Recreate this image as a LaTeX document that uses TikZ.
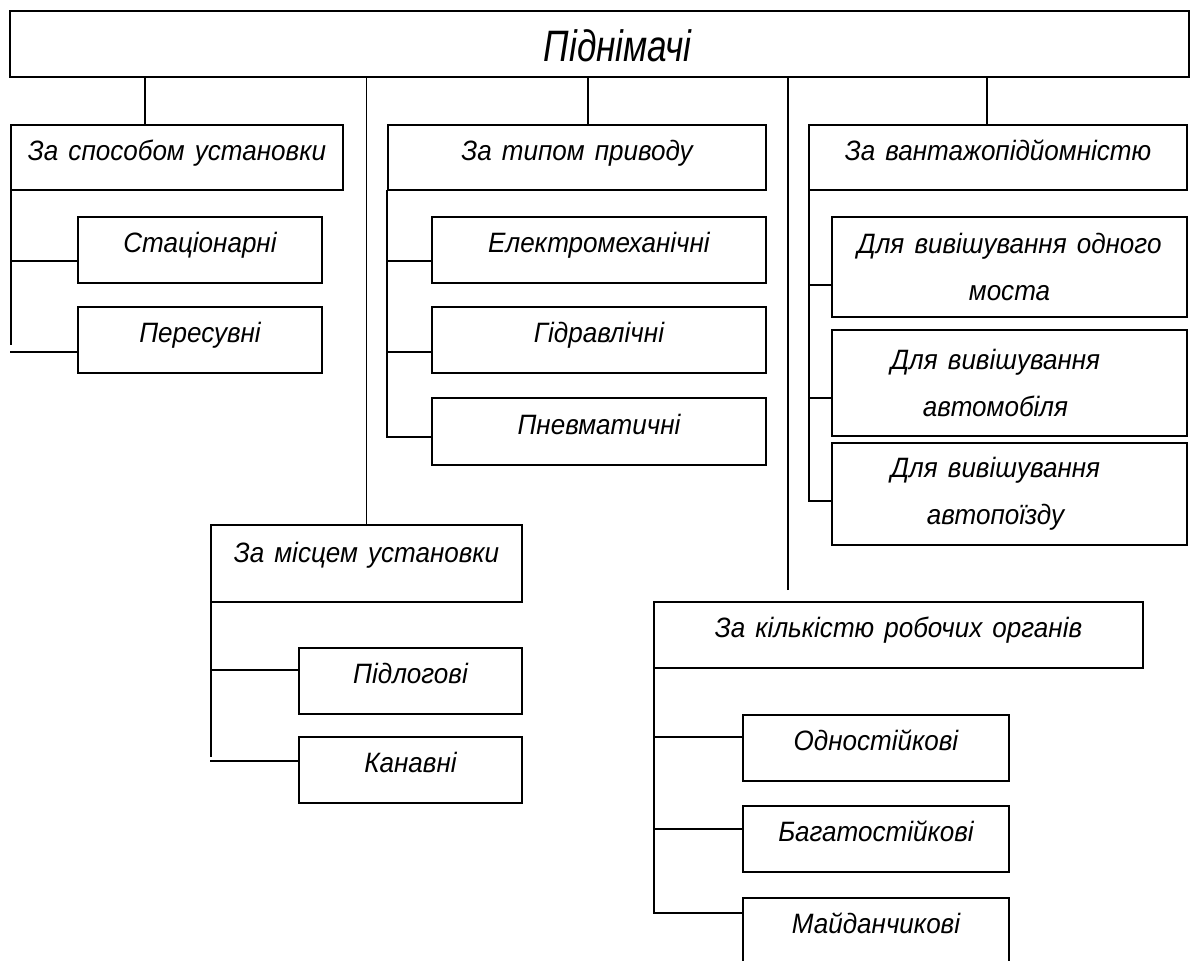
\documentclass[tikz,border=0pt]{standalone}
\usepackage{fontspec}
\setmainfont{Liberation Sans}[FakeStretch=0.93,WordSpace=1.4]
\newfontfamily\titlefont{Liberation Sans}[FakeStretch=0.8]
\usetikzlibrary{calc}
\begin{document}
\begin{tikzpicture}[x=1pt,y=-1pt,
  box/.style={draw, line width=1.8pt, rectangle, inner sep=0pt, outer sep=0pt,
    font=\fontsize{28}{47}\selectfont\itshape, align=center},
  sl/.style={box, text height=20pt, text depth=15pt},
  wire/.style={line width=1.8pt}]
\fill[white] (0,0) rectangle (1195,961);
\useasboundingbox (0,0) rectangle (1195,961);
\clip (0,0) rectangle (1195,961);

% top
\node[box, minimum width=1179pt, minimum height=66pt, text height=34pt, text depth=0pt,
  font=\titlefont\fontsize{44}{50}\selectfont\itshape] (top) at (599.5,44) {\hspace*{36pt}Піднімачі};

% branches
\node[sl, minimum width=332pt, minimum height=65pt] (b1) at (177,157.5) {За способом установки};
\node[sl, minimum width=378pt, minimum height=65pt] (b2) at (577,157.5) {За типом приводу};
\node[sl, minimum width=378pt, minimum height=65pt] (b3) at (998,157.5) {За вантажопідйомністю};
\node[sl, minimum width=311pt, minimum height=77pt, text depth=23pt] (m) at (366.5,563.5) {За місцем установки};
\node[sl, minimum width=489pt, minimum height=66pt] (k) at (898.5,635) {За кількістю робочих органів};

% leaves
\node[sl, minimum width=244pt, minimum height=66pt] (st) at (200,250) {Стаціонарні};
\node[sl, minimum width=244pt, minimum height=66pt] (pe) at (200,340) {Пересувні};
\node[sl, minimum width=334pt, minimum height=66pt] (el) at (599,250) {Електромеханічні};
\node[sl, minimum width=334pt, minimum height=66pt] (gi) at (599,340) {Гідравлічні};
\node[sl, minimum width=334pt, minimum height=67pt] (pn) at (599,431.5) {Пневматичні};
\node[box, minimum width=355pt, minimum height=100pt] (va) at (1009.5,267) {Для вивішування одного\\моста};
\node[box, minimum width=355pt, minimum height=106pt] (vb) at (1009.5,383) {Для вивішування\hspace*{28pt}\\автомобіля\hspace*{28pt}};
\node[box, minimum width=355pt, minimum height=102pt] (vc) at (1009.5,494) {Для вивішування\hspace*{28pt}\\автопоїзду\hspace*{28pt}};
\node[sl, minimum width=223pt, minimum height=66pt] (pi) at (410.5,681) {Підлогові};
\node[sl, minimum width=223pt, minimum height=66pt] (ka) at (410.5,770) {Канавні};
\node[sl, minimum width=266pt, minimum height=66pt] (od) at (876,748) {Одностійкові};
\node[sl, minimum width=266pt, minimum height=66pt] (ba) at (876,839) {Багатостійкові};
\node[sl, minimum width=266pt, minimum height=66pt] (ma) at (876,931) {Майданчикові};

% connectors from top
\draw[wire] ([xshift=134pt]b1.north west) -- ([xshift=134pt]b1.north west |- top.south);
\draw[wire] (m.north) -- (m.north |- top.south);
\draw[wire] ([xshift=200pt]b2.north west) -- ([xshift=200pt]b2.north west |- top.south);
\coordinate (kend) at ([xshift=134pt,yshift=12pt]k.north west);
\draw[wire] (kend) -- (kend |- top.south);
\draw[wire] ([xshift=178pt]b3.north west) -- ([xshift=178pt]b3.north west |- top.south);

% b1 spine
\draw[wire] (b1.south west) -- ($(b1.south west |- pe.west)+(0,5)$);
\draw[wire] ($(b1.south west |- st.west)+(0,11)$) -- ($(st.west)+(0,11)$);
\draw[wire] ($(b1.south west |- pe.west)+(-1,12)$) -- ($(pe.west)+(0,12)$);

% b2 spine
\draw[wire] ($(b2.south west)+(-1,0)$) |- ($(pn.west)+(0,5.5)$);
\draw[wire] ($(b2.south west |- el.west)+(-1,11)$) -- ($(el.west)+(0,11)$);
\draw[wire] ($(b2.south west |- gi.west)+(-1,12)$) -- ($(gi.west)+(0,12)$);

% b3 spine
\draw[wire] (b3.south west) |- ($(vc.west)+(0,7)$);
\draw[wire] ($(b3.south west |- va.west)+(0,18)$) -- ($(va.west)+(0,18)$);
\draw[wire] ($(b3.south west |- vb.west)+(0,15)$) -- ($(vb.west)+(0,15)$);

% m spine
\draw[wire] (m.south west) -- ($(m.south west |- ka.west)+(0,-13)$);
\draw[wire] ($(m.south west |- pi.west)+(0,-11)$) -- ($(pi.west)+(0,-11)$);
\draw[wire] ($(m.south west |- ka.west)+(-1,-9)$) -- ($(ka.west)+(0,-9)$);

% k spine
\draw[wire] (k.south west) |- ($(ma.west)+(0,-18)$);
\draw[wire] ($(k.south west |- od.west)+(0,-11)$) -- ($(od.west)+(0,-11)$);
\draw[wire] ($(k.south west |- ba.west)+(0,-10)$) -- ($(ba.west)+(0,-10)$);
\end{tikzpicture}
\end{document}
